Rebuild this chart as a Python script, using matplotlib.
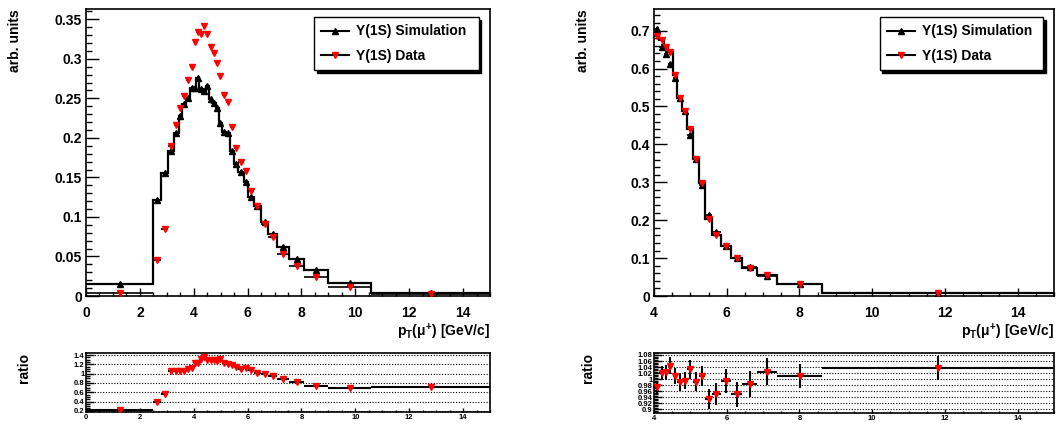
import numpy as np
import matplotlib
matplotlib.use('Agg')
import matplotlib.pyplot as plt
from matplotlib.lines import Line2D
from matplotlib.ticker import MultipleLocator, FuncFormatter

plt.rcParams['font.family'] = ['Liberation Sans', 'DejaVu Sans']
plt.rcParams['font.weight'] = 'bold'
plt.rcParams['axes.labelweight'] = 'bold'
plt.rcParams['mathtext.fontset'] = 'custom'
plt.rcParams['mathtext.rm'] = 'Liberation Sans:bold'
plt.rcParams['mathtext.it'] = 'Liberation Sans:bold'
plt.rcParams['mathtext.bf'] = 'Liberation Sans:bold'

# left panel: full pT range
l_edges = [0, 2.5, 2.8, 3.05, 3.25, 3.45, 3.55, 3.72, 3.85, 4.0, 4.1, 4.2, 4.35,
           4.45, 4.57, 4.69, 4.81, 4.93, 5.05, 5.2, 5.35, 5.5, 5.65, 5.85, 6.03,
           6.23, 6.5, 6.77, 7.1, 7.55, 8.1, 9.0, 10.6, 15]
l_sim = [0.0152, 0.1219, 0.156, 0.184, 0.206, 0.228, 0.2425, 0.25, 0.263, 0.2636,
         0.276, 0.2615, 0.2594, 0.265, 0.249, 0.244, 0.2374, 0.2184, 0.207, 0.206,
         0.184, 0.167, 0.157, 0.1446, 0.1257, 0.1143, 0.0932, 0.0784, 0.062,
         0.0472, 0.0325, 0.016, 0.0042]
l_data = [0.0042, 0.0455, 0.0848, 0.190, 0.2163, 0.238, 0.2526, 0.273, 0.2897,
          0.321, 0.3336, 0.332, 0.3416, 0.331, 0.3154, 0.307, 0.2943, 0.278, 0.254,
          0.2454, 0.2134, 0.1877, 0.1695, 0.158, 0.133, 0.1143, 0.0907, 0.0746,
          0.0531, 0.0375, 0.024, 0.0114, 0.0031]
l_ratio = [0.214, 0.38, 0.56, 1.055, 1.055, 1.055, 1.055, 1.105, 1.127, 1.24, 1.234,
           1.31, 1.36, 1.29, 1.29, 1.29, 1.27, 1.31, 1.24, 1.206, 1.177, 1.14, 1.105,
           1.12, 1.084, 1.02, 0.997, 0.96, 0.875, 0.818, 0.74, 0.69, 0.72]

# right panel: pT > 4 GeV/c
r_edges = [4.0, 4.15, 4.28, 4.39, 4.51, 4.64, 4.77, 4.91, 5.06, 5.23, 5.40, 5.60,
           5.83, 6.11, 6.43, 6.83, 7.39, 8.63, 15]
r_sim = [0.704, 0.658, 0.639, 0.612, 0.575, 0.523, 0.487, 0.424, 0.3605, 0.294,
         0.213, 0.169, 0.1316, 0.1009, 0.0754, 0.0535, 0.032, 0.0072]
r_data = [0.687, 0.676, 0.656, 0.643, 0.584, 0.523, 0.487, 0.441, 0.3605, 0.299,
          0.204, 0.162, 0.131, 0.1, 0.0745, 0.0555, 0.033, 0.0075]
r_ratio = [0.974, 1.02, 1.023, 1.045, 1.01, 0.99, 0.995, 1.033, 0.992, 1.01, 0.934,
           0.951, 0.995, 0.95, 0.984, 1.025, 1.01, 1.038]
r_ratio_err = [0.02, 0.023, 0.025, 0.029, 0.026, 0.03, 0.028, 0.031, 0.031, 0.033,
               0.034, 0.036, 0.04, 0.042, 0.042, 0.044, 0.039, 0.04]

fmt = FuncFormatter(lambda v, p: f'{v:g}')


def centers(edges):
    e = np.array(edges)
    return (e[1:] + e[:-1]) / 2, (e[1:] - e[:-1]) / 2


def main_panel(ax, edges, line, sim, data, err, ylim, ymaj, ymin, ylab_x):
    xc, xw = centers(edges)
    ax.stairs(line, edges, color='k', lw=1.6, baseline=None, zorder=2)
    ax.errorbar(xc, sim, xerr=xw, yerr=err, fmt='^', color='k', ms=5,
                elinewidth=1.2, capsize=0, zorder=3)
    ax.errorbar(xc, data, xerr=xw, yerr=err, fmt='v', mfc='red', mec='red',
                ecolor='k', ms=5, elinewidth=1.2, capsize=0, zorder=4)
    ax.set_xlim(edges[0], 15)
    ax.set_ylim(*ylim)
    ax.xaxis.set_major_locator(MultipleLocator(2))
    ax.xaxis.set_minor_locator(MultipleLocator(0.5))
    ax.yaxis.set_major_locator(MultipleLocator(ymaj))
    ax.yaxis.set_minor_locator(MultipleLocator(ymin))
    ax.xaxis.set_major_formatter(fmt)
    ax.yaxis.set_major_formatter(fmt)
    ax.tick_params(which='both', direction='in', top=False, right=False,
                   labelsize=10, width=1)
    ax.tick_params(axis='y', which='major', length=9, pad=3)
    ax.tick_params(axis='y', which='minor', length=4.5)
    ax.tick_params(axis='x', which='major', length=6, pad=7)
    ax.tick_params(axis='x', which='minor', length=3)
    for s in ax.spines.values():
        s.set_linewidth(1.2)
    ax.set_xlabel(r'$p_{T}(\mu^{+})$ [GeV/c]', fontsize=10, loc='right')
    ax.xaxis.set_label_coords(1.0, -0.09)
    ax.set_ylabel('arb. units', fontsize=10, loc='top')
    ax.yaxis.set_label_coords(ylab_x, 1.0)

    h_sim = Line2D([], [], color='k', lw=1.5, marker='^', ms=5)
    h_dat = Line2D([], [], color='k', lw=1.5, marker='v', ms=5, mfc='red', mec='red')
    leg = ax.legend([h_sim, h_dat], ['Υ(1S) Simulation', 'Υ(1S) Data'],
                    loc='upper left', bbox_to_anchor=(0.564, 0, 0.408, 0.973),
                    mode='expand', borderaxespad=0, fancybox=False, edgecolor='k',
                    framealpha=1, shadow={'color': 'k', 'alpha': 1}, fontsize=10,
                    handlelength=2, handletextpad=0.5, labelspacing=0.75,
                    borderpad=0.55)
    leg.get_frame().set_linewidth(1)


def ratio_panel(ax, edges, ratio, err, ylim, ymaj, ymin, ylab_x):
    xc, xw = centers(edges)
    ax.errorbar(xc, ratio, xerr=xw, yerr=err, fmt='v', mfc='red', mec='red',
                ecolor='k', ms=5, elinewidth=1.5, capsize=0, zorder=3)
    ax.set_xlim(edges[0], 15)
    ax.set_ylim(*ylim)
    ax.xaxis.set_major_locator(MultipleLocator(2))
    ax.xaxis.set_minor_locator(MultipleLocator(0.5))
    ax.yaxis.set_major_locator(MultipleLocator(ymaj))
    ax.yaxis.set_minor_locator(MultipleLocator(ymin))
    ax.xaxis.set_major_formatter(fmt)
    ax.yaxis.set_major_formatter(fmt)
    ax.grid(axis='y', which='major', ls=(0, (1, 1.5)), color='k', lw=0.8)
    ax.tick_params(which='both', direction='in', top=False, right=False,
                   labelsize=5.5, width=1)
    ax.tick_params(axis='y', which='major', length=6, pad=1)
    ax.tick_params(axis='y', which='minor', length=3)
    ax.tick_params(axis='x', which='major', length=3, pad=2)
    ax.tick_params(axis='x', which='minor', length=1.5)
    for s in ax.spines.values():
        s.set_linewidth(1.2)
    ax.set_ylabel('ratio', fontsize=10, loc='top')
    ax.yaxis.set_label_coords(ylab_x, 1.0)


fig = plt.figure(figsize=(10.59, 4.25), dpi=100)
ax1 = fig.add_axes([0.0812, 0.3035, 0.3815, 0.6753])
ax2 = fig.add_axes([0.6176, 0.3035, 0.3777, 0.6753])
rx1 = fig.add_axes([0.0812, 0.0313, 0.3815, 0.1374])
rx2 = fig.add_axes([0.6176, 0.0289, 0.3777, 0.1398])

main_panel(ax1, l_edges, l_sim, l_sim, l_data, 0.002, (0, 0.363), 0.05, 0.01, -0.158)
# in the right panel the histogram outline follows the data
main_panel(ax2, r_edges, r_data, r_sim, r_data, 0.006, (0, 0.757), 0.1, 0.02, -0.16)
ratio_panel(rx1, l_edges, l_ratio, 0, (0.18, 1.44), 0.2, 0.05, -0.136)
ratio_panel(rx2, r_edges, r_ratio, r_ratio_err, (0.889, 1.0856), 0.02, 0.005, -0.1475)

fig.savefig('out.png', dpi=100)
